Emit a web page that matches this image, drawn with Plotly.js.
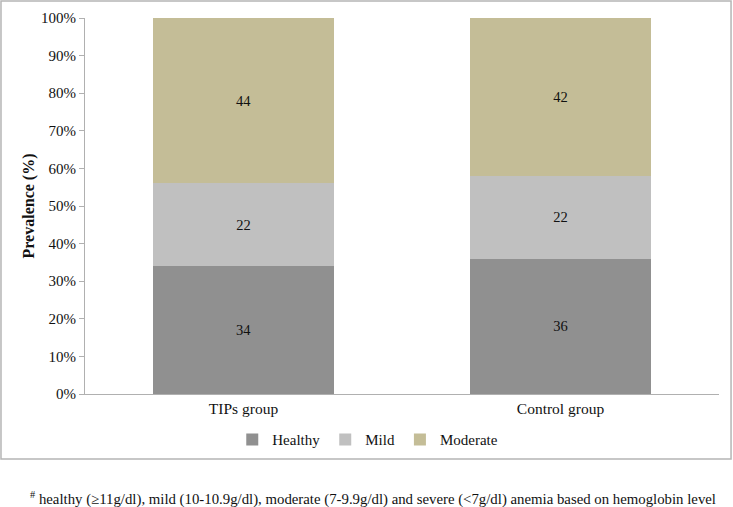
<!DOCTYPE html>
<html>
<head>
<meta charset="utf-8">
<script src="https://cdn.plot.ly/plotly-3.0.1.min.js"></script>
<style>
  html, body { margin: 0; padding: 0; background: #fff; }
  #chart { width: 733px; height: 507px; }
</style>
</head>
<body>
<div id="chart"></div>
<script>
// groups on the x axis
var groups = ["TIPs group", "Control group"];

// prevalence (%) per anemia level
var healthy = [34, 36];
var mild = [22, 22];
var moderate = [44, 42];

var serif = "Liberation Serif";

function seg(name, vals, color) {
    return {
        type: "bar",
        name: name,
        x: groups,
        y: vals,
        text: vals.map(String),
        textposition: "inside",
        insidetextanchor: "middle",
        textfont: { family: serif, size: 14.5, color: "#111" },
        marker: { color: color },
        hoverinfo: "x+y+name"
    };
}

var data = [
    seg("Healthy", healthy, "#909090"),
    seg("Mild", mild, "#c0c0c0"),
    seg("Moderate", moderate, "#c4bd97")
];

var layout = {
    width: 733,
    height: 507,
    barmode: "stack",
    bargap: 0.43,
    showlegend: true,
    margin: { l: 85, r: 14, t: 18, b: 113 },
    paper_bgcolor: "#fff",
    plot_bgcolor: "#fff",
    font: { family: serif, size: 15, color: "#111" },
    xaxis: {
        showline: true,
        linecolor: "#b0b0b0",
        linewidth: 1,
        ticks: "",
        tickfont: { family: serif, size: 15.5 },
        fixedrange: true
    },
    yaxis: {
        range: [0, 100],
        dtick: 10,
        ticksuffix: "%",
        showgrid: false,
        zeroline: false,
        showline: true,
        linecolor: "#b0b0b0",
        ticks: "outside",
        ticklen: 5,
        tickcolor: "#b0b0b0",
        tickfont: { family: serif, size: 15 },
        title: { text: "<b>Prevalence (%)</b>", font: { family: serif, size: 16 }, standoff: 2 }
    },
    legend: {
        orientation: "h",
        x: 0.446,
        xanchor: "center",
        y: -0.122,
        yanchor: "middle",
        font: { family: serif, size: 15 },
        itemwidth: 30,
        traceorder: "normal"
    },
    shapes: [{
        type: "rect",
        xref: "paper", yref: "paper",
        x0: -0.1325, x1: 1.019,
        y0: -0.1729, y1: 1.045,
        line: { color: "#b5b5b5", width: 1.5 }
    }],
    annotations: [{
        xref: "paper", yref: "paper",
        x: -0.09, y: -0.2766,
        xanchor: "left", yanchor: "middle",
        showarrow: false,
        text: "<sup>#</sup> healthy (≥11g/dl), mild (10-10.9g/dl), moderate (7-9.9g/dl) and severe (<7g/dl) anemia based on hemoglobin level",
        font: { family: serif, size: 14.8, color: "#111" }
    }]
};

Plotly.newPlot("chart", data, layout, { displayModeBar: false });
</script>
</body>
</html>
